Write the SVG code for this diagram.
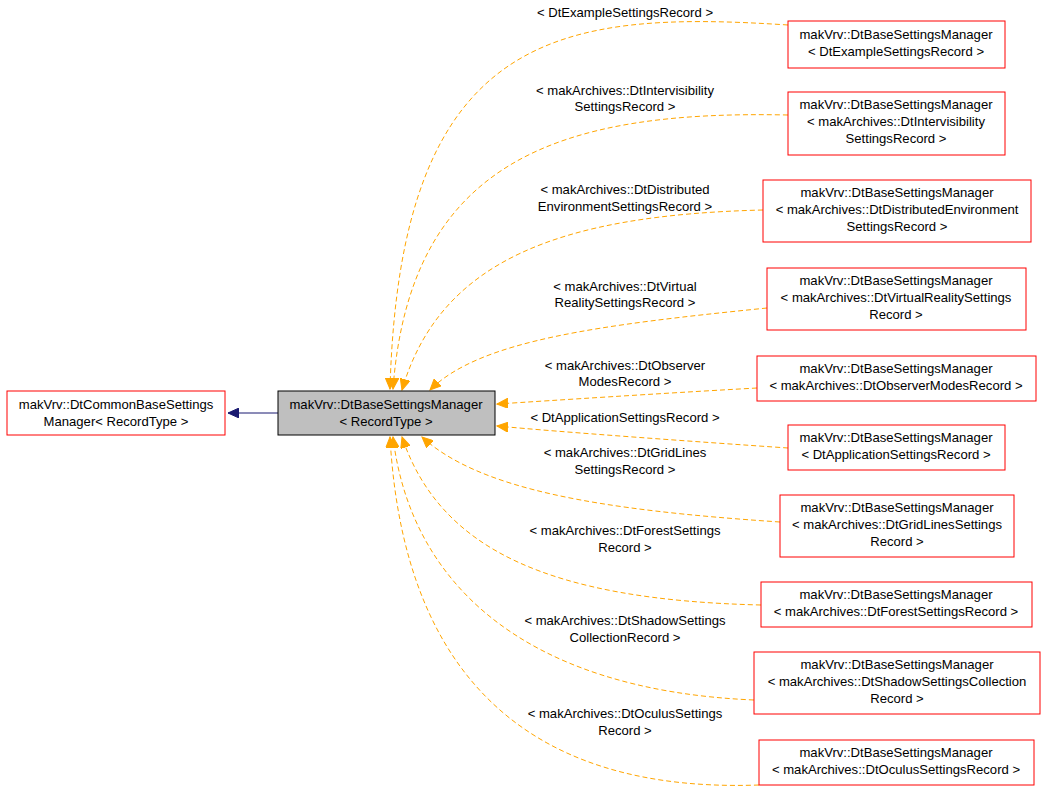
<svg xmlns="http://www.w3.org/2000/svg" width="1045" height="796" viewBox="0 0 1045 796">
<style>
text{font-family:"Liberation Sans",Arial,sans-serif;font-size:13.1px;text-anchor:middle;fill:#000}
.n{fill:#fff;stroke:#ff0000;stroke-width:1}
.e{fill:none;stroke:#ffa500;stroke-dasharray:5,3}
</style>
<defs>
<marker id="o" markerWidth="12" markerHeight="10" refX="11" refY="5" orient="auto" markerUnits="userSpaceOnUse"><path d="M0,0 L11,5 L0,10 z" fill="#ffa500" stroke="#ffa500"/></marker>
<marker id="b" markerWidth="12" markerHeight="10" refX="11" refY="5" orient="auto" markerUnits="userSpaceOnUse"><path d="M0,0 L11,5 L0,10 z" fill="#191970" stroke="#191970"/></marker>
</defs>
<rect width="1045" height="796" fill="#fff"/>
<g id="edges">
<path d="M278,413 L228,413" stroke="#191970" fill="none" marker-end="url(#b)"/>
<path class="e" marker-end="url(#o)" d="M788,25 C560,10 400,30 390,389"/>
<path class="e" marker-end="url(#o)" d="M788,115 C560,110 410,160 393,389"/>
<path class="e" marker-end="url(#o)" d="M763,210 C560,215 440,260 402,390"/>
<path class="e" marker-end="url(#o)" d="M767,308 C600,325 480,340 430,390"/>
<path class="e" marker-end="url(#o)" d="M757,388 C650,394 560,400 497,404"/>
<path class="e" marker-end="url(#o)" d="M788,448 C700,442 560,432 497,426"/>
<path class="e" marker-end="url(#o)" d="M780,522 C600,510 480,490 422,437"/>
<path class="e" marker-end="url(#o)" d="M761,605 C550,600 440,550 402,437"/>
<path class="e" marker-end="url(#o)" d="M754,700 C520,690 410,580 393,437"/>
<path class="e" marker-end="url(#o)" d="M759,785 C480,795 400,620 390,437"/>
</g>
<g id="labels">
<text x="625" y="17">&lt; DtExampleSettingsRecord &gt;</text>
<text x="625" y="95">&lt; makArchives::DtIntervisibility</text><text x="625" y="111">SettingsRecord &gt;</text>
<text x="625" y="194">&lt; makArchives::DtDistributed</text><text x="625" y="211">EnvironmentSettingsRecord &gt;</text>
<text x="625" y="291">&lt; makArchives::DtVirtual</text><text x="625" y="307">RealitySettingsRecord &gt;</text>
<text x="625" y="370">&lt; makArchives::DtObserver</text><text x="625" y="386">ModesRecord &gt;</text>
<text x="625" y="422">&lt; DtApplicationSettingsRecord &gt;</text>
<text x="625" y="457">&lt; makArchives::DtGridLines</text><text x="625" y="474">SettingsRecord &gt;</text>
<text x="625" y="535">&lt; makArchives::DtForestSettings</text><text x="625" y="552">Record &gt;</text>
<text x="625" y="625">&lt; makArchives::DtShadowSettings</text><text x="625" y="642">CollectionRecord &gt;</text>
<text x="625" y="718">&lt; makArchives::DtOculusSettings</text><text x="625" y="735">Record &gt;</text>
</g>
<g id="base"><rect class="n" x="7" y="391" width="218" height="44"/><text x="116" y="409">makVrv::DtCommonBaseSettings</text><text x="116" y="426">Manager&lt; RecordType &gt;</text></g>
<g id="main"><rect x="278" y="391" width="217" height="44" fill="#bfbfbf" stroke="#000"/><text x="386" y="409">makVrv::DtBaseSettingsManager</text><text x="386" y="426">&lt; RecordType &gt;</text></g>
<g id="n1"><rect class="n" x="788" y="21" width="217" height="47"/><text x="896" y="39">makVrv::DtBaseSettingsManager</text><text x="896" y="56">&lt; DtExampleSettingsRecord &gt;</text></g>
<g id="n2"><rect class="n" x="788" y="92" width="217" height="63"/><text x="896" y="109">makVrv::DtBaseSettingsManager</text><text x="896" y="126">&lt; makArchives::DtIntervisibility</text><text x="896" y="143">SettingsRecord &gt;</text></g>
<g id="n3"><rect class="n" x="763" y="180" width="268" height="62"/><text x="897" y="197">makVrv::DtBaseSettingsManager</text><text x="897" y="214">&lt; makArchives::DtDistributedEnvironment</text><text x="897" y="231">SettingsRecord &gt;</text></g>
<g id="n4"><rect class="n" x="767" y="268" width="259" height="62"/><text x="896" y="285">makVrv::DtBaseSettingsManager</text><text x="896" y="302">&lt; makArchives::DtVirtualRealitySettings</text><text x="896" y="319">Record &gt;</text></g>
<g id="n5"><rect class="n" x="757" y="356" width="279" height="45"/><text x="896" y="373">makVrv::DtBaseSettingsManager</text><text x="896" y="390">&lt; makArchives::DtObserverModesRecord &gt;</text></g>
<g id="n6"><rect class="n" x="788" y="425" width="217" height="45"/><text x="896" y="442">makVrv::DtBaseSettingsManager</text><text x="896" y="459">&lt; DtApplicationSettingsRecord &gt;</text></g>
<g id="n7"><rect class="n" x="780" y="495" width="234" height="62"/><text x="897" y="512">makVrv::DtBaseSettingsManager</text><text x="897" y="529">&lt; makArchives::DtGridLinesSettings</text><text x="897" y="546">Record &gt;</text></g>
<g id="n8"><rect class="n" x="761" y="582" width="271" height="45"/><text x="896" y="599">makVrv::DtBaseSettingsManager</text><text x="896" y="616">&lt; makArchives::DtForestSettingsRecord &gt;</text></g>
<g id="n9"><rect class="n" x="754" y="652" width="286" height="62"/><text x="897" y="669">makVrv::DtBaseSettingsManager</text><text x="897" y="686">&lt; makArchives::DtShadowSettingsCollection</text><text x="897" y="703">Record &gt;</text></g>
<g id="n10"><rect class="n" x="759" y="740" width="275" height="45"/><text x="896" y="757">makVrv::DtBaseSettingsManager</text><text x="896" y="774">&lt; makArchives::DtOculusSettingsRecord &gt;</text></g>
</svg>
